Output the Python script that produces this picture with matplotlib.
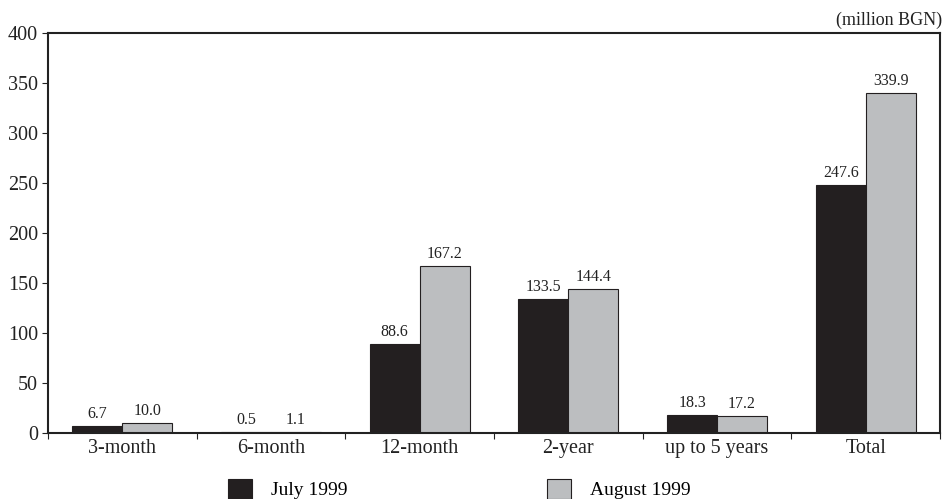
import matplotlib
matplotlib.use("Agg")
import matplotlib.pyplot as plt
import matplotlib.patches as mpatches
import numpy as np

categories = ["3-month", "6-month", "12-month", "2-year", "up to 5 years", "Total"]
july_1999 = [6.7, 0.5, 88.6, 133.5, 18.3, 247.6]
august_1999 = [10.0, 1.1, 167.2, 144.4, 17.2, 339.9]
series_names = ["July 1999", "August 1999"]
y_ticks = [0, 50, 100, 150, 200, 250, 300, 350, 400]

plt.rcParams["font.family"] = ["Liberation Serif", "DejaVu Serif"]

dark = "#231f20"
light = "#bcbec0"
ink = "#222222"

fig = plt.figure(figsize=(9.44, 4.99), dpi=100)
ax = fig.add_axes([0.0508, 0.1323, 0.945, 0.8016])

x = np.arange(len(categories))
w = 0.336
b1 = ax.bar(x - w / 2, july_1999, w, color=dark, edgecolor=dark, linewidth=0.8)
b2 = ax.bar(x + w / 2, august_1999, w, color=light, edgecolor=dark, linewidth=0.8)

for bars, vals in ((b1, july_1999), (b2, august_1999)):
    for rect, v in zip(bars, vals):
        ax.text(rect.get_x() + rect.get_width() / 2, v + 4, f"{v:.1f}",
                ha="center", va="bottom", fontsize=11.5, color=ink)

ax.set_xlim(-0.5, len(categories) - 0.5)
ax.set_ylim(0, 400)
ax.set_yticks(y_ticks)
ax.tick_params(axis="y", labelsize=14.5, length=4, width=0.8, direction="out",
               colors=ink, pad=3)

# category labels centred under groups, tick marks at group boundaries
ax.set_xticks(np.arange(len(categories) + 1) - 0.5)
ax.set_xticklabels([])
ax.tick_params(axis="x", length=4, width=0.8, direction="out", colors=ink)
ax.set_xticks(x, minor=True)
ax.set_xticklabels(categories, minor=True)
ax.tick_params(axis="x", which="minor", length=0, labelsize=14.5, pad=4,
               colors=ink)

for s in ax.spines.values():
    s.set_linewidth(1.5)
    s.set_color(ink)

ax.text(1.002, 1.01, "(million BGN)", transform=ax.transAxes, ha="right",
        va="bottom", fontsize=13, color=ink)

handles = [mpatches.Patch(facecolor=dark, edgecolor=dark, linewidth=0.8),
           mpatches.Patch(facecolor=light, edgecolor=dark, linewidth=0.8)]
for h, name, x0 in zip(handles, series_names, (228 / 944, 547 / 944)):
    fig.legend([h], [name], loc="center left", bbox_to_anchor=(x0, 0.02),
               frameon=False, fontsize=14, handlelength=1.25, handleheight=1.25,
               handletextpad=0.95, borderpad=0, borderaxespad=0)

fig.savefig("out.png", dpi=100)
